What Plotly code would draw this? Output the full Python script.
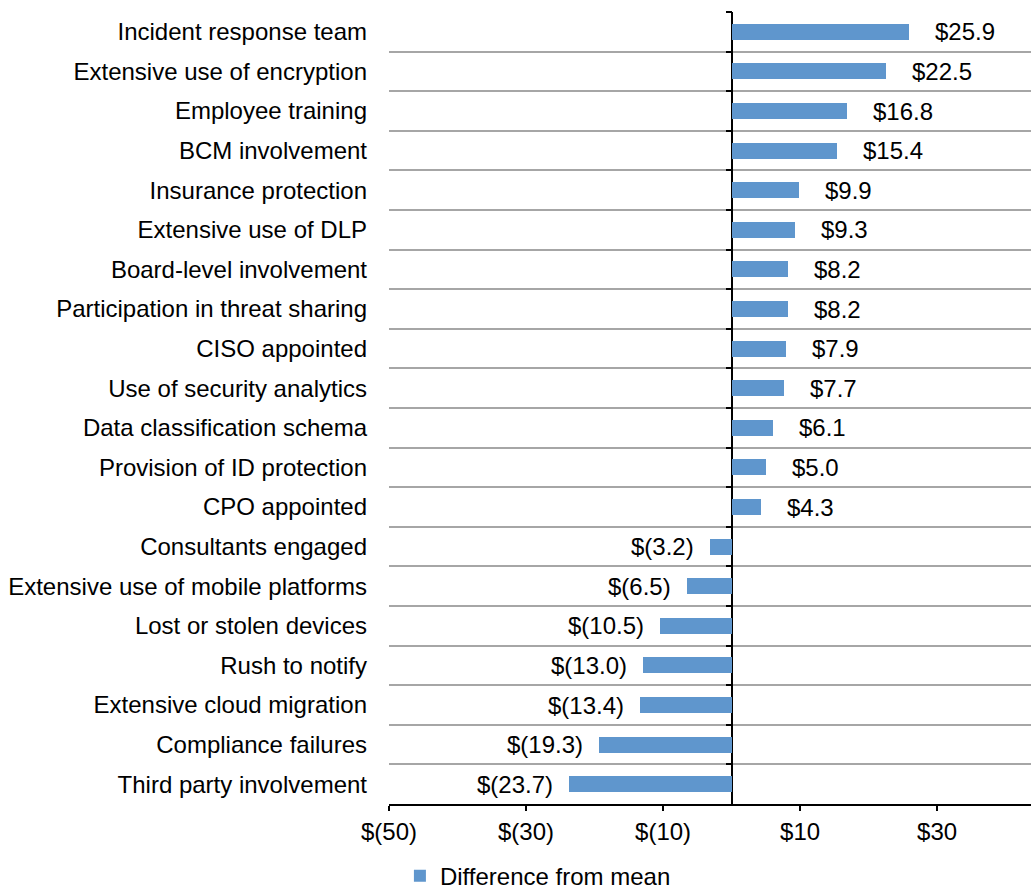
import plotly.graph_objects as go

# Categories, top to bottom
factors = [
    "Incident response team",
    "Extensive use of encryption",
    "Employee training",
    "BCM involvement",
    "Insurance protection",
    "Extensive use of DLP",
    "Board-level involvement",
    "Participation in threat sharing",
    "CISO appointed",
    "Use of security analytics",
    "Data classification schema",
    "Provision of ID protection",
    "CPO appointed",
    "Consultants engaged",
    "Extensive use of mobile platforms",
    "Lost or stolen devices",
    "Rush to notify",
    "Extensive cloud migration",
    "Compliance failures",
    "Third party involvement",
]
diff_from_mean = [25.9, 22.5, 16.8, 15.4, 9.9, 9.3, 8.2, 8.2, 7.9, 7.7,
                  6.1, 5.0, 4.3, -3.2, -6.5, -10.5, -13.0, -13.4, -19.3, -23.7]

x_ticks = [-50, -30, -10, 10, 30]
x_tick_text = ["$(50)", "$(30)", "$(10)", "$10", "$30"]

X_RANGE = [-50, 43.7]
FONT = "Liberation Sans, Arial, sans-serif"
FS = 24
BAR_COLOR = "#5F96CD"


def money(v):
    return f"${v:.1f}" if v >= 0 else f"$({abs(v):.1f})"


pos = list(range(len(factors)))
y_range = [len(factors) - 0.5, -0.5]

fig = go.Figure()
fig.add_trace(go.Bar(
    x=diff_from_mean, y=pos, orientation="h",
    marker=dict(color=BAR_COLOR, line=dict(width=0)),
    width=0.4, name="Difference from mean",
))
# helper trace so the boundary axis is drawn
fig.add_trace(go.Scatter(x=[None], y=[None], yaxis="y2",
                         showlegend=False, hoverinfo="skip"))

# data labels
for p, v in zip(pos, diff_from_mean):
    fig.add_annotation(
        x=v, y=p, text=money(v), showarrow=False,
        xanchor="left" if v >= 0 else "right",
        xshift=24 if v >= 0 else -14,
        font=dict(family=FONT, size=FS, color="#000000"),
    )

zero_pos = (0 - X_RANGE[0]) / (X_RANGE[1] - X_RANGE[0])

fig.update_layout(
    width=1031, height=890,
    margin=dict(l=389, r=0, t=12, b=86, autoexpand=False),
    paper_bgcolor="white", plot_bgcolor="white",
    font=dict(family=FONT, size=FS, color="#000000"),
    bargap=0,
    xaxis=dict(
        range=X_RANGE, tickvals=x_ticks, ticktext=x_tick_text,
        showgrid=False, zeroline=True, zerolinecolor="#000000", zerolinewidth=2,
        showline=True, linecolor="#000000", linewidth=1.5,
        ticks="outside", ticklen=5, tickcolor="#000000", tickwidth=1.5,
        tickfont=dict(size=FS), fixedrange=True, automargin=False,
    ),
    yaxis=dict(
        range=y_range, tickvals=pos, ticktext=factors,
        showgrid=False, zeroline=False, showline=False, ticks="",
        ticklabelstandoff=21, tickfont=dict(size=FS), automargin=False,
    ),
    yaxis2=dict(
        overlaying="y", anchor="free", position=zero_pos, side="left",
        range=y_range,
        tickvals=[i - 0.5 for i in range(len(factors))],
        showticklabels=False, ticks="outside", ticklen=6,
        tickcolor="#000000", tickwidth=1.5,
        showgrid=True, gridcolor="#A6A6A6", gridwidth=1.5,
        zeroline=False, showline=False, automargin=False,
    ),
    showlegend=True,
    legend=dict(
        orientation="h", x=0.017, xanchor="left", y=-0.091, yanchor="middle",
        font=dict(size=FS), bgcolor="rgba(0,0,0,0)",
    ),
)

# drop the page's default body margin so the figure fills the window
fig.write_html(
    "out.html",
    config={"displayModeBar": False},
    post_script="document.body.style.margin='0';document.body.style.overflow='hidden';",
)
